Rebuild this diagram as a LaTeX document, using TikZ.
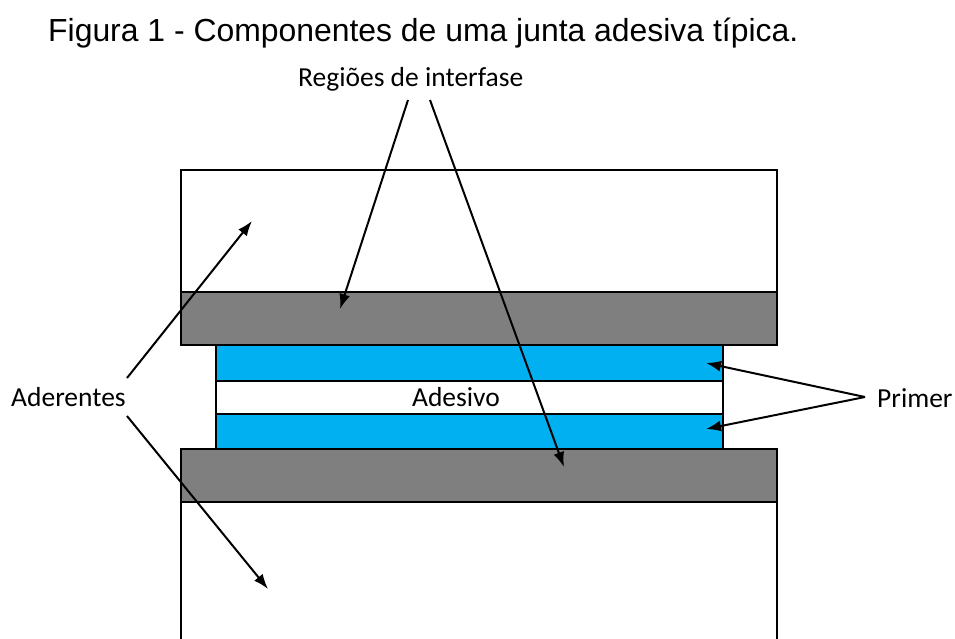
\documentclass[tikz,border=0pt]{standalone}
\usepackage{fontspec}
\setmainfont{Carlito}
\newfontfamily\titlefont{Liberation Sans}
\usetikzlibrary{arrows.meta}
\definecolor{layergray}{RGB}{127,127,127}
\definecolor{primercyan}{RGB}{0,176,240}
\tikzset{
  layer/.style={draw=black, line width=2pt, inner sep=0pt, outer sep=0pt, anchor=north west},
  lbl/.style={font=\fontsize{27.5}{32}\selectfont, inner sep=0pt, text=black},
  ptr/.style={line width=2pt, -{Latex[length=15pt,width=11pt]}},
}
\begin{document}
\begin{tikzpicture}[x=1pt,y=-1pt]
\useasboundingbox (0,0) rectangle (955,638);
% title
\node[anchor=base west, inner sep=0pt, font=\titlefont\fontsize{31.9}{36}\selectfont] (title) at (48,41) {Figura 1 - Componentes de uma junta adesiva típica.};
% top adherend
\node[layer, fill=white, minimum width=596pt, minimum height=122pt] (topad) at (181,170) {};
% top interphase
\node[layer, fill=layergray, minimum width=596pt, minimum height=53pt] (topgray) at (181,292) {};
% primer top
\node[layer, fill=primercyan, minimum width=507pt, minimum height=36pt] (primtop) at (216,345) {};
% adhesive
\node[layer, fill=white, minimum width=507pt, minimum height=33pt] (adh) at (216,381) {};
% primer bottom
\node[layer, fill=primercyan, minimum width=507pt, minimum height=35pt] (primbot) at (216,414) {};
% bottom adherend (open at bottom)
\fill[white] (181,502) rectangle (777,638);
\draw[line width=2pt] (181,640) -- (181,502) -- (777,502) -- (777,640);
% bottom interphase
\node[layer, fill=layergray, minimum width=596pt, minimum height=53pt] (botgray) at (181,449) {};
% labels
\node[lbl, anchor=base] (adtext) at (456,406) {Adesivo};
\node[lbl, anchor=base west] (regioes) at (298,86) {Regiões de interfase};
\node[lbl, anchor=base west] (aderentes) at (11,406) {Aderentes};
\node[lbl, anchor=base west] (primer) at (877,407) {Primer};
% connector end points
\coordinate (r1s) at (408,100);
\coordinate (r2s) at (430,100);
\coordinate (r1e) at (340,309);
\coordinate (r2e) at (564,467);
\coordinate (a1s) at (127,378);
\coordinate (a1e) at (252,221);
\coordinate (a2s) at (127,416);
\coordinate (a2e) at (268,589);
\coordinate (ps) at (865,397);
\coordinate (p1e) at (706,363);
\coordinate (p2e) at (706,429);
% arrows
\draw[ptr] (r1s) -- (r1e);
\draw[ptr] (r2s) -- (r2e);
\draw[ptr] (a1s) -- (a1e);
\draw[ptr] (a2s) -- (a2e);
\draw[ptr] (ps) -- (p1e);
\draw[ptr] (ps) -- (p2e);
\end{tikzpicture}
\end{document}
